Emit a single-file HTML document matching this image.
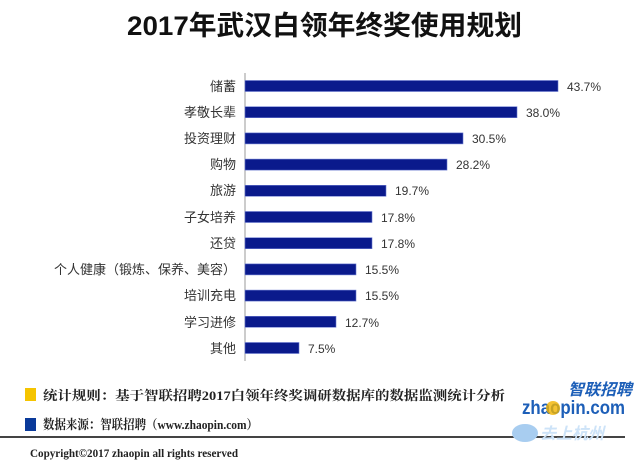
<!DOCTYPE html>
<html><head><meta charset="utf-8"><style>
html,body{margin:0;padding:0;background:#fff;width:640px;height:465px;overflow:hidden}
svg text{font-family:"Liberation Sans","Noto Sans CJK SC",sans-serif}
svg text.serif{font-family:"Liberation Serif","Noto Serif CJK SC",serif}
</style></head><body>
<svg width="640" height="465" viewBox="0 0 640 465" xmlns="http://www.w3.org/2000/svg">
<rect width="640" height="465" fill="#fff"/>
<text x="127" y="35" font-size="27" font-weight="bold" fill="#111" textLength="395" lengthAdjust="spacingAndGlyphs">2017年武汉白领年终奖使用规划</text>
<line x1="245" y1="73" x2="245" y2="361" stroke="#999" stroke-width="1"/>
<g fill="#0a1a8c" stroke="#6a7ad0" stroke-width="0.6">
<rect x="245" y="80.5" width="313" height="11"/>
<rect x="245" y="106.7" width="272" height="11"/>
<rect x="245" y="132.9" width="218" height="11"/>
<rect x="245" y="159.1" width="202" height="11"/>
<rect x="245" y="185.3" width="141" height="11"/>
<rect x="245" y="211.5" width="127" height="11"/>
<rect x="245" y="237.7" width="127" height="11"/>
<rect x="245" y="263.9" width="111" height="11"/>
<rect x="245" y="290.1" width="111" height="11"/>
<rect x="245" y="316.3" width="91" height="11"/>
<rect x="245" y="342.5" width="54" height="11"/>
</g>
<g font-size="13" fill="#333" text-anchor="end">
<text x="236" y="91">储蓄</text>
<text x="236" y="117">孝敬长辈</text>
<text x="236" y="143">投资理财</text>
<text x="236" y="169">购物</text>
<text x="236" y="195">旅游</text>
<text x="236" y="222">子女培养</text>
<text x="236" y="248">还贷</text>
<text x="236" y="274">个人健康（锻炼、保养、美容）</text>
<text x="236" y="300">培训充电</text>
<text x="236" y="327">学习进修</text>
<text x="236" y="353">其他</text>
</g>
<g font-size="12" fill="#333">
<text x="567" y="91">43.7%</text>
<text x="526" y="117">38.0%</text>
<text x="472" y="143">30.5%</text>
<text x="456" y="169">28.2%</text>
<text x="395" y="195">19.7%</text>
<text x="381" y="222">17.8%</text>
<text x="381" y="248">17.8%</text>
<text x="365" y="274">15.5%</text>
<text x="365" y="300">15.5%</text>
<text x="345" y="327">12.7%</text>
<text x="308" y="353">7.5%</text>
</g>
<rect x="25" y="388" width="11" height="13" fill="#f5c400"/>
<rect x="25" y="418" width="11" height="13" fill="#0a3a9a"/>
<text class="serif" x="43" y="400" font-size="13" font-weight="bold" fill="#222" textLength="462" lengthAdjust="spacingAndGlyphs">统计规则：基于智联招聘2017白领年终奖调研数据库的数据监测统计分析</text>
<text class="serif" x="43" y="429" font-size="13" font-weight="bold" fill="#222" textLength="215" lengthAdjust="spacingAndGlyphs">数据来源：智联招聘（www.zhaopin.com）</text>
<line x1="0" y1="437" x2="625" y2="437" stroke="#444" stroke-width="2"/>
<text class="serif" x="30" y="457" font-size="12" font-weight="bold" fill="#222" textLength="208" lengthAdjust="spacingAndGlyphs">Copyright©2017 zhaopin all rights reserved</text>
<text x="568" y="395" font-size="16" font-weight="bold" fill="#1d5fb8" font-style="italic">智联招聘</text>
<text x="522" y="414" font-size="19" font-weight="bold" fill="#1d5fb8" textLength="103" lengthAdjust="spacingAndGlyphs">zhaopin.com</text>
<circle cx="553" cy="408" r="7" fill="#f2b400" opacity="0.8"/>
<ellipse cx="525" cy="433" rx="13" ry="9" fill="#a8cdf0"/>
<text x="540" y="439" font-size="16" font-weight="bold" fill="#cde3f8" font-style="italic">去上杭州</text>
</svg>
</body></html>
